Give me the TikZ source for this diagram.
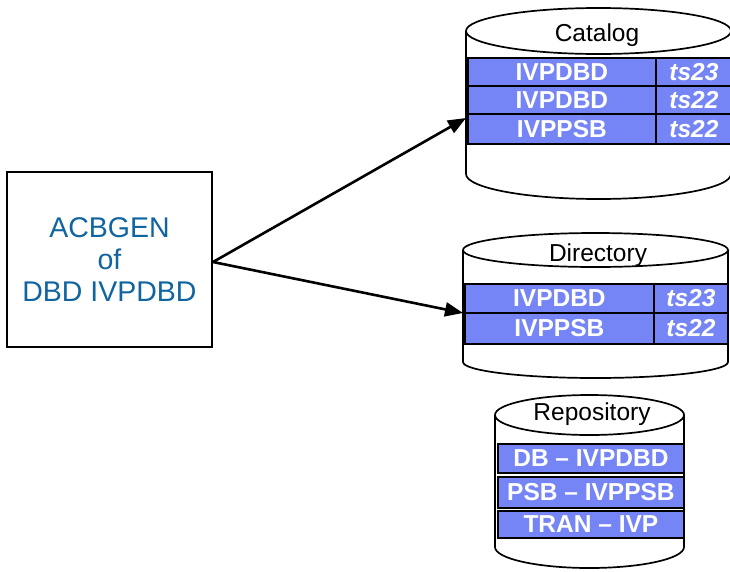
\documentclass[tikz,border=0pt]{standalone}
\usepackage{fontspec}
\setmainfont{Liberation Sans}
\usetikzlibrary{arrows.meta}
\definecolor{rowblue}{RGB}{117,133,246}
\definecolor{textblue}{RGB}{16,100,160}
\tikzset{
  rowcell/.style={draw=black, line width=1.8pt, fill=rowblue, text=white,
    font=\fontsize{24.5}{26}\selectfont\bfseries, inner sep=0pt, anchor=north west},
  tscell/.style={rowcell, font=\fontsize{24.5}{26}\selectfont\bfseries\itshape},
  cyllabel/.style={font=\fontsize{24.5}{26}\selectfont, text=black, inner sep=0pt},
  flow/.style={line width=2.6pt, -{Triangle[length=18pt,width=14pt]}},
}
% cylinder: left x, right x, top-ellipse centre y, bottom-ellipse centre y, top ry, bottom ry
\newcommand{\drumshape}[6]{%
  \pgfmathsetmacro{\dcx}{(#1+#2)/2}%
  \pgfmathsetmacro{\drx}{(#2-#1)/2}%
  \draw[line width=1.7pt, fill=white] (\dcx,#4) ellipse [x radius=\drx pt, y radius=#6pt];
  \fill[white] (#1,#3) rectangle (#2,#4);
  \draw[line width=1.7pt] (#1,#3) -- (#1,#4) (#2,#3) -- (#2,#4);
  \draw[line width=1.7pt, fill=white] (\dcx,#3) ellipse [x radius=\drx pt, y radius=#5pt];
}
\begin{document}
\begin{tikzpicture}[x=1pt, y=-1pt]
\useasboundingbox (0,0) rectangle (730,571);
\fill[white] (0,0) rectangle (730,571);

% source box
\node[draw=black, line width=2pt, minimum width=205pt, minimum height=175pt,
  text=textblue, align=center, font=\fontsize{28.5}{32}\selectfont, inner sep=0pt]
  (gen) at (109.5,259.5) {ACBGEN\\of\\DBD IVPDBD};

% Catalog
\drumshape{466}{731}{31}{174}{23}{25}
\node[cyllabel] (catlabel) at (597,35) {Catalog};
\node[rowcell, minimum width=188pt, minimum height=28pt] (c1) at (467,57) {IVPDBD};
\node[tscell, minimum width=76pt, minimum height=28pt] (c1t) at (655,57) {ts23};
\node[rowcell, minimum width=188pt, minimum height=28pt] (c2) at (467,85) {IVPDBD};
\node[tscell, minimum width=76pt, minimum height=28pt] (c2t) at (655,85) {ts22};
\node[rowcell, minimum width=188pt, minimum height=30pt] (c3) at (467,113) {IVPPSB};
\node[tscell, minimum width=76pt, minimum height=30pt] (c3t) at (655,113) {ts22};
\coordinate (catin) at (466,118);

% Directory
\drumshape{463}{728}{250}{362}{17}{16}
\node[cyllabel] (dirlabel) at (598,255) {Directory};
\node[rowcell, minimum width=189pt, minimum height=29pt] (d1) at (464,283) {IVPDBD};
\node[tscell, minimum width=74pt, minimum height=29pt] (d1t) at (653,283) {ts23};
\node[rowcell, minimum width=189pt, minimum height=31pt] (d2) at (464,312) {IVPPSB};
\node[tscell, minimum width=74pt, minimum height=31pt] (d2t) at (653,312) {ts22};
\coordinate (dirin) at (463,313);

% Repository
\drumshape{495}{684}{415}{547}{20}{21}
\node[cyllabel] (replabel) at (592,414) {Repository};
\node[rowcell, minimum width=186pt, minimum height=29pt] (r1) at (497,443) {DB – IVPDBD};
\node[rowcell, minimum width=186pt, minimum height=31pt] (r2) at (497,476) {PSB – IVPPSB};
\node[rowcell, minimum width=186pt, minimum height=27pt] (r3) at (497,510) {TRAN – IVP};

% connectors
\coordinate (out) at ([yshift=-2.5pt]gen.east);
\draw[flow] (out) -- (catin);
\draw[flow] (out) -- (dirin);
\end{tikzpicture}
\end{document}
